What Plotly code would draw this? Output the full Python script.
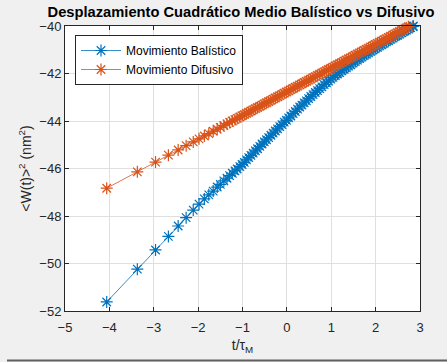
import plotly.graph_objects as go

# t/tau_M (log scale values as plotted)
x_vals = [-4.06, -3.37, -2.96, -2.67, -2.45, -2.27, -2.11, -1.98, -1.86, -1.76,
          -1.66, -1.57, -1.50, -1.42, -1.35, -1.29, -1.23, -1.17, -1.12, -1.06,
          -1.01, -0.96, -0.91, -0.86, -0.81, -0.76, -0.71, -0.66, -0.61, -0.56,
          -0.51, -0.46, -0.41, -0.36, -0.31, -0.26, -0.21, -0.16, -0.11, -0.06,
          -0.01, 0.04, 0.09, 0.14, 0.19, 0.24, 0.29, 0.34, 0.39, 0.44,
          0.49, 0.54, 0.59, 0.64, 0.69, 0.74, 0.79, 0.84, 0.89, 0.94,
          0.99, 1.04, 1.09, 1.14, 1.19, 1.24, 1.29, 1.34, 1.39, 1.44,
          1.49, 1.54, 1.59, 1.64, 1.69, 1.74, 1.79, 1.84, 1.89, 1.94,
          1.99, 2.04, 2.09, 2.14, 2.19, 2.24, 2.29, 2.34, 2.39, 2.44,
          2.49, 2.54, 2.59, 2.64, 2.69, 2.74, 2.79, 2.84, 2.85]

balistico = [-51.62, -50.24, -49.43, -48.86, -48.42, -48.07, -47.75, -47.50, -47.28, -47.11,
             -46.95, -46.78, -46.67, -46.52, -46.41, -46.30, -46.20, -46.10, -46.02, -45.92,
             -45.83, -45.74, -45.64, -45.54, -45.45, -45.35, -45.26, -45.17, -45.07, -44.97,
             -44.88, -44.79, -44.70, -44.60, -44.51, -44.42, -44.33, -44.24, -44.15, -44.05,
             -43.97, -43.87, -43.79, -43.69, -43.60, -43.50, -43.41, -43.33, -43.24, -43.15,
             -43.06, -42.97, -42.89, -42.80, -42.72, -42.64, -42.56, -42.47, -42.39, -42.32,
             -42.24, -42.16, -42.09, -42.02, -41.96, -41.89, -41.82, -41.76, -41.69, -41.63,
             -41.56, -41.50, -41.44, -41.37, -41.31, -41.25, -41.19, -41.13, -41.07, -41.01,
             -40.96, -40.90, -40.84, -40.79, -40.73, -40.67, -40.62, -40.56, -40.51, -40.45,
             -40.40, -40.34, -40.29, -40.23, -40.18, -40.13, -40.07, -40.02, -40.01]

difusivo = [-46.83, -46.14, -45.73, -45.44, -45.22, -45.04, -44.88, -44.75, -44.63, -44.53,
            -44.43, -44.34, -44.27, -44.19, -44.12, -44.06, -44.00, -43.94, -43.89, -43.83,
            -43.78, -43.73, -43.68, -43.63, -43.58, -43.53, -43.48, -43.43, -43.38, -43.33,
            -43.28, -43.23, -43.18, -43.13, -43.08, -43.03, -42.98, -42.93, -42.88, -42.83,
            -42.78, -42.73, -42.68, -42.63, -42.58, -42.53, -42.48, -42.43, -42.38, -42.33,
            -42.28, -42.23, -42.18, -42.13, -42.08, -42.03, -41.98, -41.93, -41.88, -41.83,
            -41.78, -41.73, -41.68, -41.63, -41.58, -41.53, -41.48, -41.43, -41.38, -41.33,
            -41.28, -41.23, -41.18, -41.13, -41.08, -41.03, -40.98, -40.93, -40.88, -40.83,
            -40.78, -40.73, -40.68, -40.63, -40.58, -40.53, -40.48, -40.43, -40.38, -40.33,
            -40.28, -40.23, -40.18, -40.13, -40.08, -40.03, -39.98, -39.93, -39.92]

series_names = ["Movimiento Balístico", "Movimiento Difusivo"]
x_ticks = [-5, -4, -3, -2, -1, 0, 1, 2, 3]
y_ticks = [-52, -50, -48, -46, -44, -42, -40]

BLUE = "#0072BD"
ORANGE = "#D95319"
FONT = "Liberation Sans, Arial, Helvetica, sans-serif"
AXC = "#262626"

fig = go.Figure()
for name, ys, col in [(series_names[0], balistico, BLUE), (series_names[1], difusivo, ORANGE)]:
    fig.add_trace(go.Scatter(
        x=x_vals, y=ys, mode="lines+markers", name=name,
        line=dict(color=col, width=0.8),
        marker=dict(symbol="asterisk-open", size=10, color=col, line=dict(color=col, width=1.2)),
        cliponaxis=False,
    ))

fig.update_layout(
    width=447, height=362,
    margin=dict(l=65, r=27, t=26, b=51),
    paper_bgcolor="#F0F0F0",
    plot_bgcolor="white",
    font=dict(family=FONT, color=AXC, size=13),
    title=dict(text="<b>Desplazamiento Cuadrático Medio Balístico vs Difusivo</b>",
               x=241 / 447, xanchor="center", y=1 - 11.5 / 362, yanchor="middle",
               font=dict(family=FONT, size=14.7, color="black")),
    showlegend=True,
    legend=dict(x=10 / 355, xanchor="left", y=1 - 9 / 285, yanchor="top",
                bgcolor="white", bordercolor=AXC, borderwidth=1,
                font=dict(family=FONT, size=12, color="black"),
                tracegroupgap=0, itemwidth=40),
    shapes=[dict(type="line", xref="paper", yref="paper", x0=(7 - 65) / 355, x1=(447 - 65) / 355,
                 y0=(311 - 360.5) / 285, y1=(311 - 360.5) / 285, line=dict(color="#5f5f5f", width=2))],
)
fig.update_xaxes(
    range=[-5, 3], tickvals=x_ticks, ticks="inside", ticklen=4, tickcolor=AXC,
    showline=True, linecolor=AXC, linewidth=1, mirror="ticks",
    showgrid=True, gridcolor="#DFDFDF", zeroline=False,
    tickfont=dict(size=13, color=AXC), ticklabelstandoff=4,
    title=dict(text="t/τ<sub>M</sub>", font=dict(size=14, color=AXC), standoff=6),
)
fig.update_yaxes(
    range=[-52, -40], tickvals=y_ticks, ticks="inside", ticklen=4, tickcolor=AXC,
    showline=True, linecolor=AXC, linewidth=1, mirror="ticks",
    showgrid=True, gridcolor="#DFDFDF", zeroline=False,
    tickfont=dict(size=13, color=AXC),
    title=dict(text="&lt;W(t)&gt;<sup>2</sup> (nm<sup>2</sup>)", font=dict(size=14, color=AXC), standoff=4),
)

fig.write_html("out.html")
